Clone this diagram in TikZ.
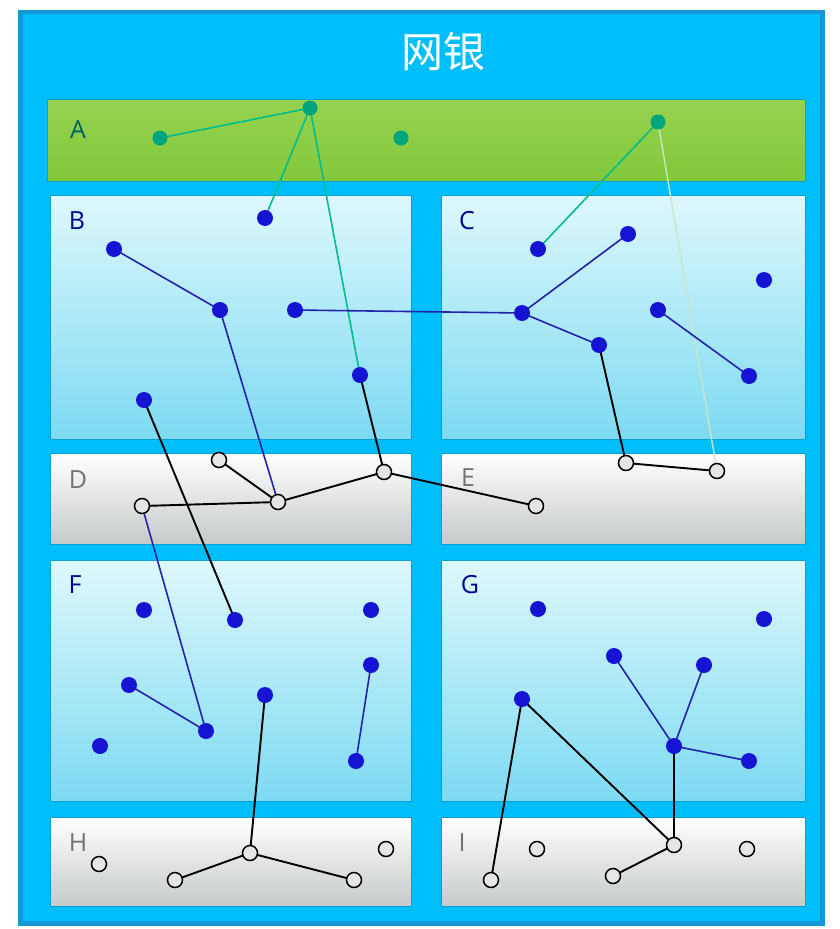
\documentclass[tikz,border=0pt]{standalone}
\usepackage{fontspec}
\setmainfont{Open Sans}
\newfontfamily\cjkfont{Noto Sans CJK SC}
\definecolor{frameblue}{RGB}{0,190,250}
\definecolor{framedark}{RGB}{20,150,215}
\definecolor{sepblue}{RGB}{10,160,210}
\definecolor{bandtop}{RGB}{150,210,80}
\definecolor{bandbot}{RGB}{130,200,60}
\definecolor{bptop}{RGB}{222,248,252}
\definecolor{bpbot}{RGB}{125,218,242}
\definecolor{gpbot}{RGB}{198,202,202}
\definecolor{tealnode}{RGB}{0,165,125}
\definecolor{tealline}{RGB}{0,190,140}
\definecolor{dotblue}{RGB}{20,20,210}
\definecolor{lineblue}{RGB}{35,35,170}
\definecolor{paleline}{RGB}{200,230,200}
\begin{document}
\begin{tikzpicture}[x=1pt,y=-1pt,
  bluepanel/.style={top color=bptop,bottom color=bpbot,draw=sepblue,line width=1pt},
  graypanel/.style={top color=white,bottom color=gpbot,draw=sepblue,line width=1pt},
  tnode/.style={circle,fill=tealnode,draw=none,minimum size=15pt,inner sep=0pt},
  bnode/.style={circle,fill=dotblue,draw=none,minimum size=16pt,inner sep=0pt},
  onode/.style={circle,fill=black!10,draw=black,line width=1.5pt,minimum size=15pt,inner sep=0pt},
  tedge/.style={draw=tealline,line width=1.6pt},
  pedge/.style={draw=paleline,line width=1.4pt},
  bedge/.style={draw=lineblue,line width=1.6pt},
  kedge/.style={draw=black,line width=1.9pt},
  lab/.style={font=\fontsize{25}{25}\selectfont,anchor=center}
]
\useasboundingbox (0,0) rectangle (840,929);
\fill[white] (0,0) rectangle (840,929);
% outer frame
\fill[framedark] (18,10) rectangle (825,926);
\fill[frameblue] (23,14) rectangle (820,921);
\node[font=\cjkfont\fontsize{42}{42}\selectfont,text=white] (title) at (443,52) {网银};
% A band
\path[draw=sepblue,line width=1pt,top color=bandtop,bottom color=bandbot] (47,99) rectangle (805,181);
\node[lab,text=teal!75!black] (la) at (78,130) {A};
% panels
\path[bluepanel] (50,195) rectangle (411,439);
\path[bluepanel] (441,195) rectangle (805,439);
\path[graypanel] (50,453) rectangle (411,544);
\path[graypanel] (441,453) rectangle (805,544);
\path[bluepanel] (50,560) rectangle (411,801);
\path[bluepanel] (441,560) rectangle (805,801);
\path[graypanel] (50,817) rectangle (411,906);
\path[graypanel] (441,817) rectangle (805,906);
% labels
\node[lab,text=blue!60!black] (lb) at (77,221) {B};
\node[lab,text=blue!60!black] (lc) at (467,221) {C};
\node[lab,text=black!55] (ld) at (78,480) {D};
\node[lab,text=black!55] (le) at (468,478) {E};
\node[lab,text=blue!60!black] (lf) at (75,585) {F};
\node[lab,text=blue!60!black] (lg) at (470,585) {G};
\node[lab,text=black!55] (lh) at (78,843) {H};
\node[lab,text=black!55] (li) at (462,843) {I};
% nodes A
\coordinate (a1) at (160,138);
\coordinate (a2) at (310,108);
\coordinate (a3) at (401,138);
\coordinate (a4) at (658,122);
% nodes B
\coordinate (b1) at (265,218);
\coordinate (b2) at (114,249);
\coordinate (b3) at (220,310);
\coordinate (b4) at (295,310);
\coordinate (b5) at (360,375);
\coordinate (b6) at (144,400);
% nodes C
\coordinate (c1) at (538,249);
\coordinate (c2) at (628,234);
\coordinate (c3) at (764,280);
\coordinate (c4) at (522,313);
\coordinate (c5) at (658,310);
\coordinate (c6) at (599,345);
\coordinate (c7) at (749,376);
% nodes F
\coordinate (f1) at (144,610);
\coordinate (f2) at (235,620);
\coordinate (f3) at (371,610);
\coordinate (f4) at (371,665);
\coordinate (f5) at (129,685);
\coordinate (f6) at (265,695);
\coordinate (f7) at (206,731);
\coordinate (f8) at (100,746);
\coordinate (f9) at (356,761);
% nodes G
\coordinate (g1) at (538,609);
\coordinate (g2) at (764,619);
\coordinate (g3) at (614,656);
\coordinate (g4) at (704,665);
\coordinate (g5) at (522,699);
\coordinate (g6) at (674,746);
\coordinate (g7) at (749,761);
% open nodes D/E/H/I
\coordinate (d1) at (219,460);
\coordinate (d2) at (278,502);
\coordinate (d3) at (384,472);
\coordinate (d4) at (142,506);
\coordinate (e1) at (536,506);
\coordinate (e2) at (626,463);
\coordinate (e3) at (717,471);
\coordinate (h1) at (99,864);
\coordinate (h2) at (250,853);
\coordinate (h3) at (386,849);
\coordinate (h4) at (175,880);
\coordinate (h5) at (354,880);
\coordinate (i1) at (537,849);
\coordinate (i2) at (674,845);
\coordinate (i3) at (747,849);
\coordinate (i4) at (491,880);
\coordinate (i5) at (613,876);
% edges
\path[tedge] (a2) -- (a1);
\path[tedge] (a2) -- (b1);
\path[tedge] (a2) -- (b5);
\path[tedge] (a4) -- (c1);
\path[pedge] (a4) -- (e3);
\path[bedge] (b2) -- (b3);
\path[bedge] (b3) -- (d2);
\path[bedge] (b4) -- (c4);
\path[bedge] (c4) -- (c2);
\path[bedge] (c4) -- (c6);
\path[bedge] (c5) -- (c7);
\path[bedge] (d4) -- (f7);
\path[bedge] (f5) -- (f7);
\path[bedge] (f4) -- (f9);
\path[bedge] (g3) -- (g6);
\path[bedge] (g4) -- (g6);
\path[bedge] (g6) -- (g7);
\path[kedge] (b5) -- (d3);
\path[kedge] (b6) -- (f2);
\path[kedge] (d1) -- (d2);
\path[kedge] (d2) -- (d3);
\path[kedge] (d2) -- (d4);
\path[kedge] (d3) -- (e1);
\path[kedge] (c6) -- (e2);
\path[kedge] (e2) -- (e3);
\path[kedge] (f6) -- (h2);
\path[kedge] (h2) -- (h4);
\path[kedge] (h2) -- (h5);
\path[kedge] (g5) -- (i4);
\path[kedge] (g5) -- (i2);
\path[kedge] (g6) -- (i2);
\path[kedge] (i2) -- (i5);
% dots on top
\foreach \n in {a1,a2,a3,a4}{\node[tnode] (n\n) at (\n) {};}
\foreach \n in {b1,b2,b3,b4,b5,b6,c1,c2,c3,c4,c5,c6,c7,f1,f2,f3,f4,f5,f6,f7,f8,f9,g1,g2,g3,g4,g5,g6,g7}{\node[bnode] (n\n) at (\n) {};}
\foreach \n in {d1,d2,d3,d4,e1,e2,e3,h1,h2,h3,h4,h5,i1,i2,i3,i4,i5}{\node[onode] (n\n) at (\n) {};}
\end{tikzpicture}
\end{document}
